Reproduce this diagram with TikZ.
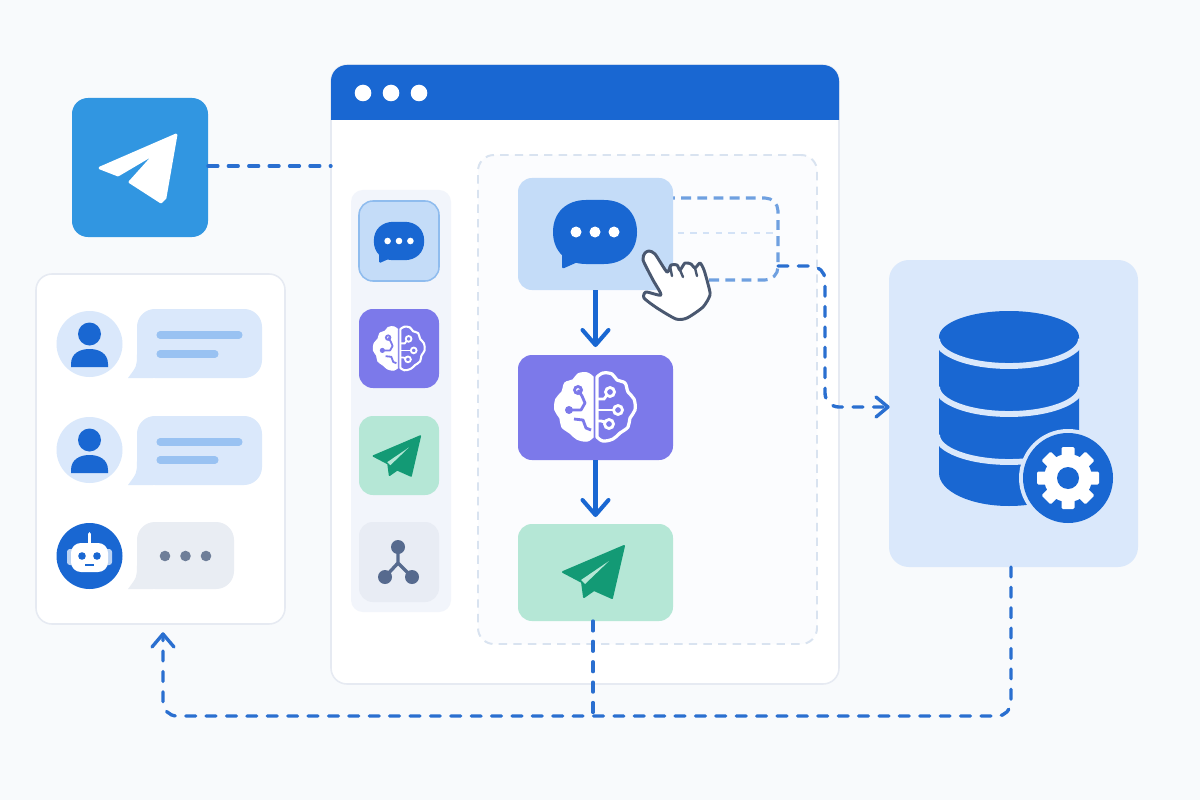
\documentclass[tikz,border=0pt]{standalone}
\definecolor{bg}{HTML}{F8FAFC}
\definecolor{blue}{HTML}{1967D2}
\definecolor{line}{HTML}{2A6FD0}
\definecolor{tg}{HTML}{3196E1}
\definecolor{edge}{HTML}{E6EAF2}
\definecolor{side}{HTML}{F2F5FB}
\definecolor{lblue}{HTML}{C4DCF8}
\definecolor{lbord}{HTML}{8FBCEE}
\definecolor{purple}{HTML}{7C79EA}
\definecolor{mint}{HTML}{B5E7D6}
\definecolor{green}{HTML}{139A75}
\definecolor{gray}{HTML}{E8ECF4}
\definecolor{slate}{HTML}{566A8E}
\definecolor{card}{HTML}{DAE8FB}
\definecolor{bar}{HTML}{99C2F2}
\definecolor{panel}{HTML}{FBFCFE}
\definecolor{dashb}{HTML}{D9E3F0}
\definecolor{loopc}{HTML}{6FA0E0}
\definecolor{loopl}{HTML}{D3E2F6}
\definecolor{handc}{HTML}{4A5870}
\definecolor{dots}{HTML}{6F7F99}
\definecolor{gbub}{HTML}{E9EDF3}
\definecolor{ear}{HTML}{BBD3F3}
\tikzset{
 box/.style 2 args={rectangle,inner sep=0pt,outer sep=0pt,minimum width=#1*0.025cm,minimum height=#2*0.025cm},
 rc/.style={rounded corners=#1*0.7087pt},
 link/.style={draw=line,line width=2.4pt,line cap=round,dash pattern=on 7pt off 7.5pt,rc=14},
 chevlink/.style={draw=line,line width=2.4pt,line cap=round,line join=round},
 flow/.style={draw=blue,line width=2.9pt},
 chevflow/.style={draw=blue,line width=2.9pt,line cap=round,line join=round},
 bbl/.style={line width=5pt,draw=bar,line cap=round}
}
% chat bubble: x, y, scale, body colour, dot colour
\newcommand\chaticon[5]{\begin{scope}[shift={(#1,#2)},scale=#3]
 \fill[#4] (-42,0) .. controls (-42,-20) and (-28,-32) .. (-9,-32) -- (9,-32) .. controls (28,-32) and (42,-20) .. (42,0) .. controls (42,20) and (28,32) .. (9,32) -- (-9,32) .. controls (-28,32) and (-42,20) .. (-42,0) -- cycle;
 \fill[#4,rounded corners=#3*1.5pt] (-33,15) -- (-33,37) -- (-15,29) -- cycle;
 \foreach \q in {-19,0,19}{\fill[#5] (\q,0) circle (5.5);}
\end{scope}}
% paper plane: x, y, scale, body colour, crease colour
\newcommand\planeicon[5]{\begin{scope}[shift={(#1,#2)},scale=#3]
 \fill[#4,line join=round,draw=#4,line width=#3*1.4pt] (29,-26) -- (17,26) -- (-1,18) -- (-11,25) -- (-13,10) -- (-32,0) -- cycle;
 \fill[#5] (14,-11) -- (-14,8) -- (-10,12) -- cycle;
\end{scope}}
% brain: x, y, scale, tile colour
\newcommand\lobes{plot[smooth,tension=.6] coordinates {(2,-30) (8,-34) (17,-33) (22,-27) (30,-24) (33,-15) (39,-8) (40,3) (35,11) (33,20) (25,26) (18,32) (8,34) (2,30)} -- cycle}
\newcommand\brainicon[4]{\begin{scope}[shift={(#1,#2)},scale=#3]
 \begin{scope}[xscale=-1]
  \fill[white,draw=white,line width=#3*1pt] \lobes;
 \end{scope}
 \draw[white,line width=#3*2.3pt,line join=round] \lobes;
 \begin{scope}[line width=#3*2pt]
  \draw[white] (3,-8) -- (9,-8) -- (12,-12);
  \draw[white] (3,3) -- (19,3);
  \draw[white] (3,14) -- (6,14) -- (10,15);
  \draw[white] (15,-15) circle (4.5);
  \draw[white] (23,3) circle (4.5);
  \draw[white] (14,17) circle (4.5);
 \end{scope}
 \begin{scope}[line width=#3*2pt]
  \draw[#4,line join=round] (-26,3) -- (-14,3) -- (-10,-4) -- (-13,-11) -- (-17,-17);
  \draw[#4,line join=round] (-21,12) -- (-12,13) -- (-9,21) -- (-4,23);
  \fill[#4] (-26,3) circle (4);
  \draw[#4] (-17,-17) circle (3.5);
 \end{scope}
\end{scope}}
\newcommand\personicon[2]{\begin{scope}[shift={(#1,#2)}]
 \fill[blue] (0,-10) circle (11.5);
 \fill[blue] (-18.5,23) -- (-18.5,20) .. controls (-18.5,9) and (-9,5) .. (0,5) .. controls (9,5) and (18.5,9) .. (18.5,20) -- (18.5,23) -- cycle;
\end{scope}}
\newcommand\bubble[5]{\fill[#5,rc=18] (#1,#2) rectangle (#3,#4);
 \fill[#5] (#1,#4-24) .. controls (#1,#4-12) .. (#1-9,#4) -- (#1+16,#4) -- (#1+16,#4-24) -- cycle;}
\begin{document}
\begin{tikzpicture}[x=0.025cm,y=-0.025cm]
\useasboundingbox (0,0) rectangle (1200,800);
\fill[bg] (0,0) rectangle (1200,800);
% large containers
\node[box={136}{139},fill=tg,rc=16] (tile) at (140,167.5) {};
\node[box={508}{619},fill=white,draw=edge,line width=1.1pt,rc=16] (window) at (585,374.5) {};
\node[box={249}{350},fill=white,draw=edge,line width=1.1pt,rc=16] (chatcard) at (160.5,449) {};
\node[box={249}{307},fill=card,rc=20] (dbcard) at (1013.5,413.5) {};
% telegram plane
\fill[white,draw=white,line width=2pt,line join=round] (176,135) -- (100,168) -- (118,175) -- (157,152) -- (130,182) -- (161,202) -- (165,198) -- cycle;
% window header
\fill[blue] (331,120) [rc=16] -- (331,65) -- (839,65) [sharp corners] -- (839,120) -- cycle;
\foreach \q in {363,391,419}{\fill[white] (\q,93) circle (8.3);}
% sidebar
\node[box={100}{422},fill=side,rc=12] (sidebar) at (401,401) {};
\node[box={80}{80},fill=lblue,draw=lbord,line width=1.1pt,rc=14] (sidechat) at (399,241) {};
\node[box={80}{79},fill=purple,rc=14] (sidebrain) at (399,348.5) {};
\node[box={80}{79},fill=mint,rc=14] (sidesend) at (399,455.5) {};
\node[box={80}{80},fill=gray,rc=14] (sidenet) at (399,562) {};
\chaticon{399}{241}{.6}{blue}{white}
\brainicon{399}{348.5}{.64}{purple}
\planeicon{398}{456}{.77}{green}{mint}
\draw[slate,line width=2.4pt,line join=round] (398,547) -- (398,563) -- (385,577) (398,563) -- (412,577);
\fill[slate] (398,547) circle (7) (385,577) circle (7) (412,577) circle (7);
% workflow panel
\node[box={339}{489},fill=panel,draw=dashb,line width=1.4pt,dash pattern=on 6pt off 4.4pt,rc=16] (panel) at (647.5,399.5) {};
% side loop behind the message step
\coordinate (la) at (665,198);
\coordinate (lb) at (778,198);
\coordinate (lc) at (778,280);
\coordinate (ld) at (690,280);
\coordinate (me) at (665,233);
\coordinate (mf) at (778,233);
\draw[loopc,line width=2.2pt,dash pattern=on 7pt off 4.5pt,rc=13] (la) -- (lb) -- (lc) -- (ld);
\draw[loopl,line width=1.9pt,dash pattern=on 4.5pt off 4.5pt] (me) -- (mf);
\node[box={155}{112},fill=lblue,rc=14] (msg) at (595.5,234) {};
\node[box={155}{105},fill=purple,rc=14] (brain) at (595.5,407.5) {};
\node[box={155}{97},fill=mint,rc=14] (send) at (595.5,572.5) {};
\chaticon{595}{232}{1}{blue}{white}
\brainicon{595}{407}{1}{purple}
\planeicon{595}{572}{1}{green}{mint}
\coordinate (t1) at (595.5,345);
\coordinate (t2) at (595.5,515);
\draw[flow] (msg.south) -- (t1);
\draw[chevflow] (t1) ++(-13,-15) -- (t1) -- ++(13,-15);
\draw[flow] (brain.south) -- (t2);
\draw[chevflow] (t2) ++(-13,-15) -- (t2) -- ++(13,-15);
% links
\coordinate (tgy) at (270,166);
\draw[link] (tile.east |- tgy) -- (window.west |- tgy);
\coordinate (lx) at (778,266);
\coordinate (ly) at (825,266);
\coordinate (lz) at (825,407);
\coordinate (t3) at (888,407);
\draw[link] (lx) -- (ly) -- (lz) -- (t3);
\draw[chevlink] (t3) ++(-12,-10) -- (t3) -- ++(-12,10);
\coordinate (dbdrop) at (1011,567);
\coordinate (c1) at (1011,716);
\coordinate (c2) at (163,716);
\coordinate (t4) at (163,634);
\draw[link] (dbdrop) -- (c1) -- (c2) -- (t4);
\draw[chevlink] (t4) ++(-11,13) -- (t4) -- ++(11,13);
\coordinate (sd) at (593,621);
\coordinate (se) at (593,716);
\draw[link] (sd) -- (se);
% database
\fill[blue] (939,337) -- (939,473) arc[start angle=180,end angle=0,x radius=70,y radius=33] -- (1079,337) arc[start angle=0,end angle=-180,x radius=70,y radius=26] -- cycle;
\foreach \q in {339,387,435}{\draw[card,line width=4.2pt] (937,\q) arc[start angle=180,end angle=0,x radius=72,y radius=27];}
\fill[card] (1068,478) circle (49);
\fill[blue] (1068,478) circle (45);
\begin{scope}[shift={(1068,478)}]
 \foreach \a in {0,45,...,315}{\fill[white,rotate=\a,rounded corners=1pt] (-6.5,-31) rectangle (6.5,-18);}
 \fill[white] (0,0) circle (24);
 \fill[blue] (0,0) circle (11);
\end{scope}
% chat rows
\fill[card] (89.5,344) circle (33);
\fill[card] (89.5,450) circle (33);
\fill[blue] (89.5,556) circle (33);
\personicon{89.5}{344}
\personicon{89.5}{450}
\bubble{137}{309}{262}{378}{card}
\bubble{137}{416}{262}{485}{card}
\bubble{137}{522}{234}{589}{gbub}
\draw[bbl] (160,335) -- (239,335);
\draw[bbl] (160,354) -- (215,354);
\draw[bbl] (160,442) -- (239,442);
\draw[bbl] (160,460) -- (215,460);
\foreach \q in {165,185.5,206}{\fill[dots] (\q,556) circle (5.3);}
% robot
\draw[white,line width=2.6pt,line cap=round] (89.5,534) -- (89.5,545);
\fill[ear,rounded corners=2pt] (67,549) rectangle (112,565);
\fill[white,rounded corners=7pt] (71,543) rectangle (108,572);
\fill[blue] (82,556) circle (3.8) (97,556) circle (3.8);
\draw[blue,line width=1.5pt] (85,565) -- (94,565);
% pointing hand
\draw[handc,fill=white,line width=2.1pt,line join=round] plot[smooth cycle,tension=.4] coordinates {(649,251) (655,254) (667,272) (671,265) (677,265) (680,270) (685,263) (691,264) (695,268) (700,263) (704,270) (708,284) (710,295) (703,307) (687,318) (676,319) (657,308) (644,298) (646,292) (661,295) (653,280) (643,260) (645,253)};
\draw[handc,line width=1.7pt,line cap=round] (670,266) -- (672,276) (680,270) -- (683,277) (695,268) -- (697,276);
\end{tikzpicture}
\end{document}
